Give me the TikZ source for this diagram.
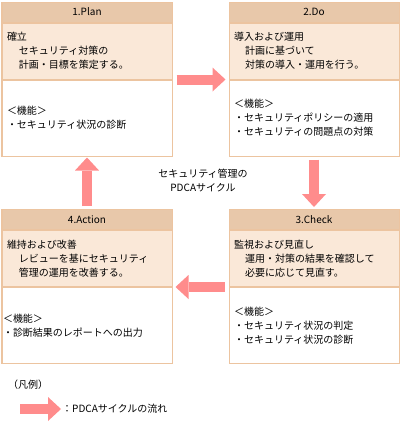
\documentclass[tikz,border=0pt]{standalone}
\usepackage{fontspec}
\setmainfont{Noto Sans CJK JP}
\usepackage{tikz}
\usetikzlibrary{arrows.meta, positioning}

\definecolor{pdcaline}{RGB}{236,196,160}
\definecolor{pdcahead}{RGB}{232,200,170}
\definecolor{pdcabody}{RGB}{250,232,216}
\definecolor{pdcaflow}{RGB}{255,140,140}

\begin{document}
\begin{tikzpicture}[
  x=1pt, y=1pt,
  node distance=0pt,
  every node/.style={font=\fontsize{10}{14}\selectfont},
  head/.style={
    rectangle, draw=pdcaline, fill=pdcahead, line width=1pt,
    minimum width=170pt, minimum height=20pt, inner sep=0pt
  },
  body/.style={
    rectangle, draw=pdcaline, fill=pdcabody, line width=1pt,
    text width=160pt, inner xsep=5pt, inner ysep=0pt,
    minimum height=56pt, align=left
  },
  func/.style={body, fill=white, minimum height=76pt},
  flow/.style={draw=pdcaflow, line width=10pt,
    -{Triangle[length=13pt, width=24pt, line width=0pt]}}
]
\useasboundingbox (0,0) rectangle (402,-424);

% 1. Plan
\node[head] (plan-h) at (87,-12) {1.Plan};
\node[body, below=of plan-h] (plan-b) {確立\\\hspace*{12pt}セキュリティ対策の\\\hspace*{12pt}計画・目標を策定する。};
\node[func, below=of plan-b] (plan-f) {＜機能＞\\・セキュリティ状況の診断};

% 2. Do
\node[head] (do-h) at (314,-12) {2.Do};
\node[body, below=of do-h] (do-b) {導入および運用\\\hspace*{11pt}計画に基づいて\\\hspace*{11pt}対策の導入・運用を行う。};
\node[func, below=of do-b] (do-f) {＜機能＞\\・セキュリティポリシーの適用\\・セキュリティの問題点の対策};

% 3. Check
\node[head] (chk-h) at (314,-219.5) {3.Check};
\node[body, below=of chk-h] (chk-b) {監視および見直し\\\hspace*{11pt}運用・対策の結果を確認して\\\hspace*{11pt}必要に応じて見直す。};
\node[func, below=of chk-b] (chk-f) {＜機能＞\\・セキュリティ状況の判定\\・セキュリティ状況の診断};

% 4. Action
\node[head] (act-h) at (87,-219.5) {4.Action};
\node[body, below=of act-h] (act-b) {維持および改善\\\hspace*{12pt}レビューを基にセキュリティ\\\hspace*{12pt}管理の運用を改善する。};
\node[func, below=of act-b, text width=168pt, inner xsep=1pt] (act-f) {＜機能＞\\・診断結果のレポートへの出力};

% 中央
\node[align=center] (title) at (203,-180.5) {セキュリティ管理の\\PDCAサイクル};

% 流れ
\draw[flow] ([xshift=4pt]plan-f.north east) -- ([xshift=-3pt]do-f.north west);
\draw[flow] ([yshift=-3pt]do-f.south) -- ([yshift=2pt]chk-h.north);
\draw[flow] ([xshift=-4pt]chk-f.north west) -- ([xshift=3pt]act-f.north east);
\draw[flow] ([yshift=3pt]act-h.north) -- ([yshift=-1pt]plan-f.south);

% 凡例
\node[anchor=west, inner sep=0pt] (legend) at (8,-385) {（凡例）};
\coordinate (leg-s) at (20,-409);
\coordinate (leg-e) at (61,-409);
\draw[flow] (leg-s) -- (leg-e);
\node[inner sep=0pt, right=1pt of leg-e] (leg-text) {：PDCAサイクルの流れ};

\end{tikzpicture}
\end{document}
